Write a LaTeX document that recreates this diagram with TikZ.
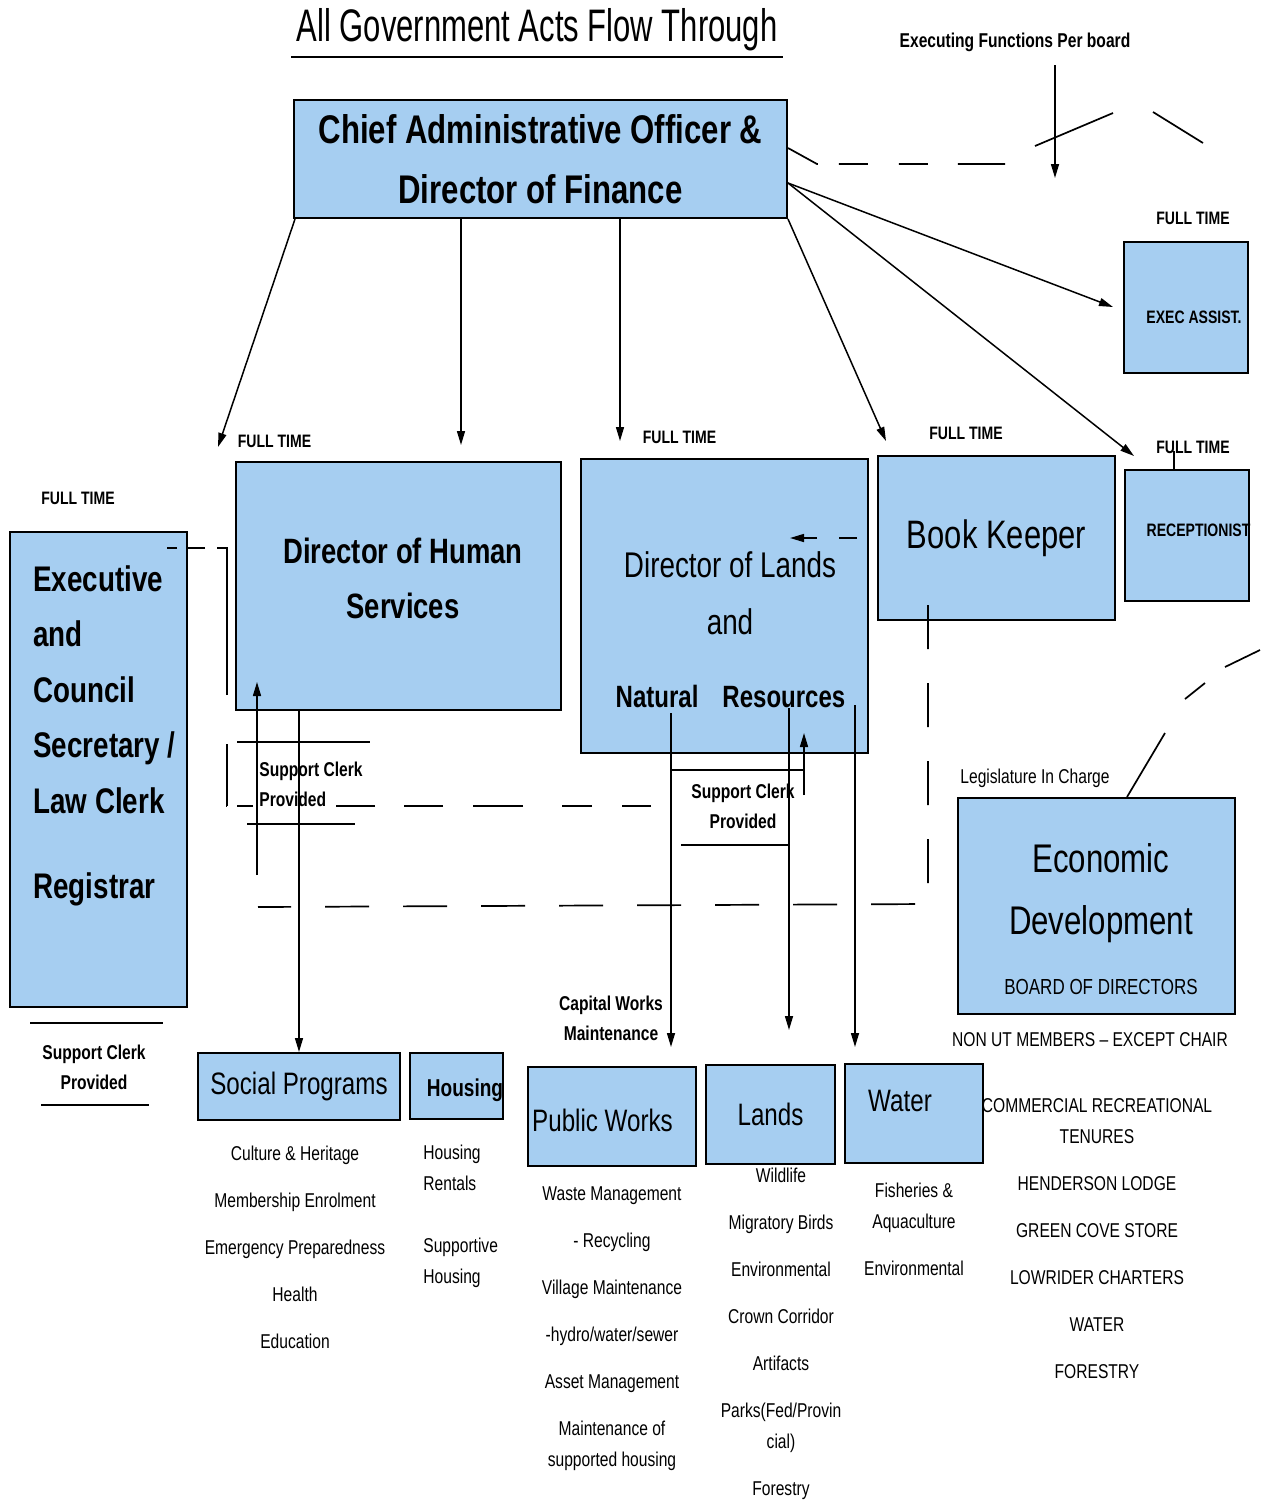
\documentclass[tikz,border=0pt]{standalone}
\usepackage{fontspec}
\setmainfont{Liberation Sans}[FakeStretch=0.78]
\newfontfamily\tallfont{Liberation Sans}[FakeStretch=0.68]
\usepackage{tikz}
\usetikzlibrary{arrows.meta}
\definecolor{boxblue}{RGB}{166,206,241}
\tikzset{
  box/.style={draw, line width=1pt, fill=boxblue, inner sep=0pt},
  arr/.style={-{Triangle[length=7pt,width=4pt]}, line width=0.75pt},
  thinln/.style={line width=0.75pt},
  dsh/.style={line width=0.85pt},
  ft/.style={font=\bfseries\fontsize{9}{11}\selectfont, inner sep=0pt},
  clerk/.style={font=\bfseries\fontsize{10}{15}\selectfont, align=center, inner sep=0pt},
  lst/.style={font=\fontsize{10}{15.5}\selectfont, align=center, anchor=north, inner sep=0pt},
  sub/.style={font=\fontsize{15.5}{18}\selectfont, inner sep=0pt},
  small/.style={font=\fontsize{10}{12}\selectfont, inner sep=0pt}
}

\begin{document}
\begin{tikzpicture}[x=0.5pt, y=-0.5pt]
  \useasboundingbox (0,0) rectangle (1262,1501);

  % title
  \node[font=\tallfont\fontsize{22.8}{26}\selectfont, inner sep=2.5pt] (ttl) at (537,30) {All Government Acts Flow Through};
  \draw[line width=0.9pt] (ttl.south west) -- (ttl.south east);
  \node[font=\bfseries\fontsize{10}{12}\selectfont, inner sep=0pt] (exf) at (1015,42) {Executing Functions Per board};

  % boxes
  \node[box, minimum width=246.5pt, minimum height=59pt, align=center,
        font=\bfseries\fontsize{20}{30}\selectfont] (cao) at (540.5,159)
        {Chief Administrative Officer \&\\Director of Finance};
  \node[box, minimum width=62pt, minimum height=65.5pt] (ea) at (1186,307.5) {};
  \node[ft] (eaT) at (1194,317) {EXEC ASSIST.};
  \node[box, minimum width=162.5pt, minimum height=124pt] (hr) at (398.5,586) {};
  \node[font=\bfseries\fontsize{17.6}{27.5}\selectfont, align=center, inner sep=0pt] (hrT) at (403,578.5)
        {Director of Human\\Services};
  \node[box, minimum width=143.5pt, minimum height=147pt] (dl) at (724.5,606) {};
  \node[font=\fontsize{17.85}{20}\selectfont, inner sep=0pt] (dlA) at (730,565) {Director of Lands};
  \node[font=\fontsize{17.85}{20}\selectfont, inner sep=0pt] (dlB) at (730,622) {and};
  \node[font=\bfseries\fontsize{15.4}{18}\selectfont, inner sep=0pt] (dlC) at (730.5,696) {Natural\hspace{12pt}Resources};
  \node[box, minimum width=118.5pt, minimum height=82pt, font=\fontsize{19.85}{22}\selectfont] (bk) at (996.5,538) {Book Keeper};
  \node[box, minimum width=62pt, minimum height=65.5pt] (rc) at (1187,535.5) {};
  \node[ft] (rcT) at (1198.5,530) {RECEPTIONIST};
  \node[box, minimum width=88.5pt, minimum height=237.5pt] (es) at (98.5,769.5) {};
  \node[font=\bfseries\fontsize{17.8}{27.75}\selectfont, align=left, anchor=north west, inner sep=0pt] (esT) at (33,565)
        {Executive\\and\\Council\\Secretary /\\Law Clerk\\[14.75pt]Registrar};
  \node[box, minimum width=138.5pt, minimum height=108pt] (ed) at (1096.5,906) {};
  \node[font=\fontsize{20}{31}\selectfont, align=center, inner sep=0pt] (edT) at (1101,893) {Economic\\Development};
  \node[font=\fontsize{10.9}{13}\selectfont, inner sep=0pt] (edB) at (1101,987) {BOARD OF DIRECTORS};

  \node[box, sub, minimum width=101pt, minimum height=33.5pt] (sp) at (299,1086.5) {Social Programs};
  \node[box, minimum width=46.5pt, minimum height=33pt] (hs) at (456.5,1086) {};
  \node[font=\bfseries\fontsize{12.2}{14}\selectfont, inner sep=0pt] (hsT) at (465,1090) {Housing};
  \node[box, minimum width=84pt, minimum height=49.5pt] (pw) at (612,1116.5) {};
  \node[sub] (pwT) at (602.5,1120) {Public Works};
  \node[box, sub, minimum width=64.5pt, minimum height=49.5pt] (lands) at (770.5,1114.5) {Lands};
  \node[box, minimum width=69pt, minimum height=49.5pt] (wt) at (914,1113.5) {};
  \node[sub] (wtT) at (900,1101) {Water};

  % full time tags
  \node[ft] (ft1) at (274.5,441) {FULL TIME};
  \node[ft] (ft2) at (679.5,437) {FULL TIME};
  \node[ft] (ft3) at (966,433) {FULL TIME};
  \node[ft] (ft4) at (1193,447) {FULL TIME};
  \node[ft] (ft5) at (78,498) {FULL TIME};
  \node[ft] (ft6) at (1193,218) {FULL TIME};

  % side labels
  \node[clerk, align=left, anchor=north west] (scH) at (259,762) {Support Clerk\\Provided};
  \node[clerk] (scD) at (743,806) {Support Clerk\\Provided};
  \node[clerk] (scE) at (94,1067.5) {Support Clerk\\Provided};
  \node[clerk] (cw) at (611,1018.5) {Capital Works\\Maintenance};
  \node[small] (lg) at (1035,778) {Legislature In Charge};
  \node[small] (nu) at (1090,1040) {NON UT MEMBERS -- EXCEPT CHAIR};

  % lists under the units
  \node[lst] (spL) at (295,1145.5) {Culture \& Heritage\\[8pt]Membership Enrolment\\[8pt]Emergency Preparedness\\[8pt]Health\\[8pt]Education};
  \node[lst, align=left, anchor=north west] (hsL) at (423,1145) {Housing\\Rentals\\[15.5pt]Supportive\\Housing};
  \node[lst] (pwL) at (612,1186) {Waste Management\\[8pt]- Recycling\\[8pt]Village Maintenance\\[8pt]-hydro/water/sewer\\[8pt]Asset Management\\[8pt]Maintenance of\\supported housing};
  \node[lst] (lnL) at (781,1168) {Wildlife\\[8pt]Migratory Birds\\[8pt]Environmental\\[8pt]Crown Corridor\\[8pt]Artifacts\\[8pt]Parks(Fed/Provin\\cial)\\[8pt]Forestry};
  \node[lst] (wtL) at (914,1183) {Fisheries \&\\Aquaculture\\[8pt]Environmental};
  \node[lst] (crL) at (1097,1098) {COMMERCIAL RECREATIONAL\\TENURES\\[8pt]HENDERSON LODGE\\[8pt]GREEN COVE STORE\\[8pt]LOWRIDER CHARTERS\\[8pt]WATER\\[8pt]FORESTRY};

  % free ends
  \coordinate (tHR) at (218,447);
  \coordinate (tHS) at (461,445);
  \coordinate (tDL) at (620,441);
  \coordinate (tBK) at (886,441);
  \coordinate (tEA) at (1113,307);
  \coordinate (tRC) at (1134,456);
  \coordinate (xTop) at (1055,65);
  \coordinate (xBot) at (1055,178);
  \coordinate (k1) at (817,164);
  \coordinate (k2) at (1005,164);
  \coordinate (r1) at (1035,146);
  \coordinate (r2) at (1113,113);
  \coordinate (r3) at (1153,112);
  \coordinate (r4) at (1203,143);
  \coordinate (g1) at (1165,733);
  \coordinate (g2) at (1185,699);
  \coordinate (g3) at (1205,683);
  \coordinate (g4) at (1225,667);
  \coordinate (g5) at (1260,650);
  \coordinate (b1) at (928,605);
  \coordinate (b2) at (928,904);
  \coordinate (b3) at (258,907);
  \coordinate (m1) at (651,806);
  \coordinate (m2) at (227,806);
  \coordinate (m3) at (227,548);
  \coordinate (m4) at (167,548);
  \coordinate (aL) at (790,538);
  \coordinate (uB) at (257,875);
  \coordinate (uT) at (257,682);
  \coordinate (dA) at (671,713);
  \coordinate (dB) at (789,708);
  \coordinate (dC) at (855,705);
  \coordinate (pwTip) at (671,1047);
  \coordinate (lnTip) at (789,1030);
  \coordinate (wtTip) at (855,1047);
  \coordinate (vB) at (804,795);
  \coordinate (vT) at (804,733);

  % CAO downwards
  \draw[arr] ([xshift=1pt]cao.south west) -- (tHR);
  \draw[arr] (cao.south -| tHS) -- (tHS);
  \draw[arr] (cao.south -| tDL) -- (tDL);
  \draw[arr] (cao.south east) -- (tBK);
  \draw[arr] ([yshift=-12pt]cao.east) -- (tEA);
  \draw[arr] ([yshift=-12pt]cao.east) -- (tRC);
  \draw[arr] (xTop) -- (xBot);
  \draw[thinln] ([xshift=-6.5pt]rc.north) -- ++(0,-18);

  % dashed links
  \draw[dsh, dash pattern=on 17pt off 10.5pt on 14.5pt off 15.5pt on 14.5pt off 15pt on 24pt off 100pt]
    ([yshift=5.5pt]cao.east) -- (k1) -- (k2);
  \draw[dsh] (r1) -- (r2) (r3) -- (r4);
  \draw[dsh] ([xshift=15.25pt]ed.north) -- (g1) (g2) -- (g3) (g4) -- (g5);
  \draw[dsh, dash pattern=on 22pt off 17pt] (b1) -- (b2) -- (b3);
  \draw[dsh, dash pattern=on 14.5pt off 15pt on 15pt off 19.5pt on 25pt off 15pt on 19.5pt off 14.5pt on 19.5pt off 41.5pt
        on 8pt off 5pt on 31pt off 24.5pt on 78.5pt off 6pt on 8.5pt off 5.5pt on 5pt off 50pt]
    (m1) -- (m2) -- (m3) -- (m4);
  \draw[arr, dash pattern=on 0pt off 10pt on 9pt off 11pt on 40pt] (bk.west) -- (aL);

  % human services side
  \draw[arr] (uB) -- (uT);
  \draw[thinln] (237,742) -- (370,742);
  \draw[thinln] (247,824) -- (355,824);
  \draw[arr] (hr.south -| sp.north) -- (sp.north);

  % lands and resources side
  \draw[arr] (dA) -- (pwTip);
  \draw[arr] (dB) -- (lnTip);
  \draw[arr] (dC) -- (wtTip);
  \draw[arr] (vB) -- (vT);
  \draw[thinln] (dA |- 0,770) -- (vB |- 0,770);
  \draw[thinln] (681,845) -- (dB |- 0,845);

  % clerk lines under the secretary
  \draw[thinln] (30,1023) -- (163,1023);
  \draw[thinln] (41,1105) -- (149,1105);
\end{tikzpicture}
\end{document}
